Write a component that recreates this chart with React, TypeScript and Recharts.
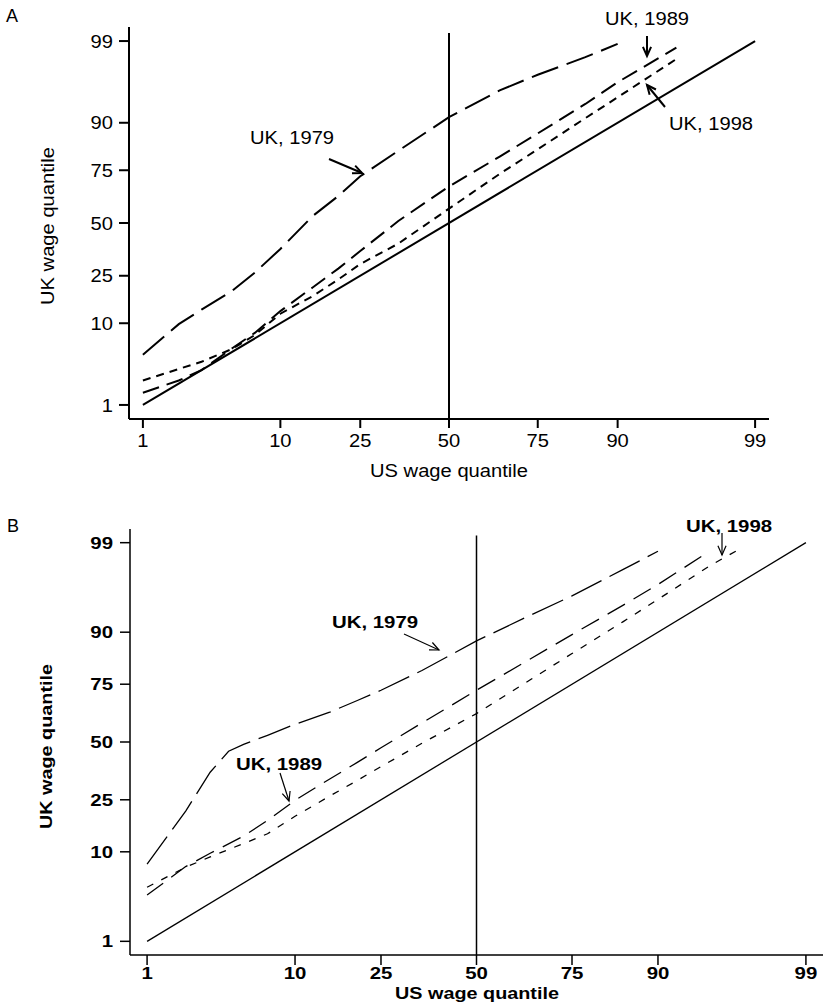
import React from "react";
import { LineChart, Line, XAxis, YAxis, ReferenceLine } from "recharts";

// quantiles: US wage quantile -> UK wage quantile (percent)
const TICKS = [1, 10, 25, 50, 75, 90, 99];

const A_US_1979 = [1, 2, 3, 5, 7, 10, 15, 20, 25, 35, 50, 65, 75, 85, 90];
const A_UK_1979 = [4.6, 9.8, 13.4, 19.4, 26.3, 37, 53.5, 63.5, 72.5, 82.2, 91.2, 95.5, 97.1, 98.3, 98.9];
const A_US_1989 = [1, 2, 3, 5, 7, 10, 15, 20, 25, 35, 50, 65, 75, 85, 90, 95.8];
const A_UK_1989 = [1.5, 2.2, 3, 5.5, 8, 13, 20.5, 28, 36, 51, 68, 80.2, 87.4, 93.6, 96.4, 98.75];
const A_US_1998 = [1, 2, 3, 5, 7, 10, 15, 20, 25, 35, 50, 65, 75, 85, 90, 95.8];
const A_UK_1998 = [2.2, 3.1, 3.8, 5.4, 7.6, 12.3, 17.5, 23.5, 30, 39.6, 57.3, 73.5, 82.7, 91, 94.6, 98.2];

const B_US_1979 = [1, 2, 3, 4, 5, 7, 10, 15, 20, 25, 35, 50, 65, 75, 85, 90];
const B_UK_1979 = [7.7, 21, 36.2, 45.7, 48.9, 53.1, 58.2, 63.6, 68.6, 72.7, 79.8, 88.1, 93.1, 95.6, 97.8, 98.7];
const B_US_1989 = [1, 2, 3, 5, 7, 10, 15, 20, 25, 35, 50, 65, 75, 85, 90, 95];
const B_UK_1989 = [3.7, 7.3, 9.7, 13.6, 18, 24.8, 33.3, 40.6, 47.3, 58.8, 72.7, 83.5, 89.5, 94.5, 96.7, 98.7];
const B_US_1998 = [1, 2, 3, 5, 7, 10, 15, 20, 25, 35, 50, 65, 75, 85, 90, 95, 97];
const B_UK_1998 = [4.5, 7.2, 9, 11.8, 14.2, 19.3, 26.4, 32.7, 38.7, 49.4, 63, 76.8, 84.9, 92, 95.2, 98, 98.85];

const EQUAL = [1, 99];

const FONT = '"Liberation Sans", Arial, Helvetica, sans-serif';

// inverse normal cdf (Acklam), percent in -> z out
function probit(pct: number) {
  const p = pct / 100;
  const a = [-39.69683028665376, 220.9460984245205, -275.9285104469687, 138.357751867269, -30.66479806614716, 2.506628277459239];
  const b = [-54.47609879822406, 161.5858368580409, -155.6989798598866, 66.80131188771972, -13.28068155288572];
  const c = [-0.007784894002430293, -0.3223964580411365, -2.400758277161838, -2.549732539343734, 4.374664141464968, 2.938163982698783];
  const d = [0.007784695709041462, 0.3224671290700398, 2.445134137142996, 3.754408661907416];
  const lo = 0.02425;
  if (p < lo) {
    const q = Math.sqrt(-2 * Math.log(p));
    return (((((c[0] * q + c[1]) * q + c[2]) * q + c[3]) * q + c[4]) * q + c[5]) / ((((d[0] * q + d[1]) * q + d[2]) * q + d[3]) * q + 1);
  }
  if (p > 1 - lo) {
    const q = Math.sqrt(-2 * Math.log(1 - p));
    return -(((((c[0] * q + c[1]) * q + c[2]) * q + c[3]) * q + c[4]) * q + c[5]) / ((((d[0] * q + d[1]) * q + d[2]) * q + d[3]) * q + 1);
  }
  const q = p - 0.5;
  const r = q * q;
  return ((((((a[0] * r + a[1]) * r + a[2]) * r + a[3]) * r + a[4]) * r + a[5]) * q) / (((((b[0] * r + b[1]) * r + b[2]) * r + b[3]) * r + b[4]) * r + 1);
}

const toPoints = (us: number[], uk: number[]) => us.map((u, i) => ({ x: probit(u), y: probit(uk[i]) }));
const tickZ = TICKS.map(probit);
const tickLabel = (v: number) => {
  const i = tickZ.findIndex((z) => Math.abs(z - v) < 1e-6);
  return i >= 0 ? String(TICKS[i]) : "";
};

type Style = { fs: number; sx: number; weight: string };

function Tick(props: any) {
  const { x, y, payload, axis, st } = props as { x: number; y: number; payload: any; axis: string; st: Style };
  const base = axis === "x" ? y + 0.716 * st.fs : y + 0.358 * st.fs;
  return (
    <text
      transform={`translate(${x},${base}) scale(${st.sx},1)`}
      textAnchor={axis === "x" ? "middle" : "end"}
      fontSize={st.fs}
      fontFamily={FONT}
      fontWeight={st.weight}
      fill="#000"
    >
      {tickLabel(payload.value)}
    </text>
  );
}

type Series = { data: { x: number; y: number }[]; dash?: string };

type PanelProps = {
  top: number;
  height: number;
  margin: { top: number; right: number; bottom: number; left: number };
  yAxisWidth: number;
  xDom: number;
  yDom: number;
  refTop: number;
  lineW: number;
  axisW: number;
  st: Style;
  xTick: [number, number];
  yTick: [number, number];
  series: Series[];
};

function Panel(p: PanelProps) {
  const axisLine = { stroke: "#000", strokeWidth: p.axisW };
  return (
    <div style={{ position: "absolute", left: 0, top: p.top }}>
      <LineChart width={826} height={p.height} margin={p.margin}>
        <XAxis
          type="number"
          dataKey="x"
          domain={[-p.xDom, p.xDom]}
          allowDataOverflow
          ticks={tickZ}
          interval={0}
          axisLine={axisLine}
          tickLine={axisLine}
          tickSize={p.xTick[0]}
          tickMargin={p.xTick[1]}
          height={40}
          tick={(t: any) => <Tick {...t} axis="x" st={p.st} />}
        />
        <YAxis
          type="number"
          dataKey="y"
          domain={[-p.yDom, p.yDom]}
          allowDataOverflow
          ticks={tickZ}
          interval={0}
          width={p.yAxisWidth}
          axisLine={axisLine}
          tickLine={axisLine}
          tickSize={p.yTick[0]}
          tickMargin={p.yTick[1]}
          tick={(t: any) => <Tick {...t} axis="y" st={p.st} />}
        />
        <ReferenceLine
          segment={[
            { x: 0, y: -p.yDom },
            { x: 0, y: p.refTop },
          ]}
          stroke="#000"
          strokeWidth={p.axisW}
        />
        {p.series.map((s, i) => (
          <Line
            key={i}
            data={s.data}
            dataKey="y"
            type="linear"
            stroke="#000"
            strokeWidth={p.lineW}
            strokeDasharray={s.dash}
            dot={false}
            activeDot={false}
            isAnimationActive={false}
          />
        ))}
      </LineChart>
    </div>
  );
}

function Txt({ x, y, children, st, anchor = "start", rot = false }: any) {
  const tr = `translate(${x},${y})${rot ? " rotate(-90)" : ""} scale(${st.sx},1)`;
  return (
    <text transform={tr} textAnchor={anchor} fontSize={st.fs} fontFamily={FONT} fontWeight={st.weight} fill="#000">
      {children}
    </text>
  );
}

function Arrow({ x1, y1, x2, y2, w }: { x1: number; y1: number; x2: number; y2: number; w: number }) {
  const ang = Math.atan2(y2 - y1, x2 - x1);
  const len = 10;
  const spread = 0.42;
  const h1 = [x2 - len * Math.cos(ang - spread), y2 - len * Math.sin(ang - spread)];
  const h2 = [x2 - len * Math.cos(ang + spread), y2 - len * Math.sin(ang + spread)];
  return (
    <g stroke="#000" strokeWidth={w} fill="none">
      <line x1={x1} y1={y1} x2={x2} y2={y2} />
      <polyline points={`${h1[0]},${h1[1]} ${x2},${y2} ${h2[0]},${h2[1]}`} />
    </g>
  );
}

const stA: Style = { fs: 18.5, sx: 1.09, weight: "normal" };
const stB: Style = { fs: 17, sx: 1.2, weight: "bold" };
const stBTitle: Style = { fs: 16.5, sx: 1.2, weight: "bold" };

export default function App() {
  return (
    <div style={{ position: "absolute", left: 0, top: 0, width: 826, height: 1003, background: "#fff" }}>
      <Panel
        top={0}
        height={490}
        margin={{ top: 27, right: 57, bottom: 31, left: 0 }}
        yAxisWidth={129}
        xDom={2.432}
        yDom={2.506}
        refTop={2.43}
        lineW={2}
        axisW={2}
        st={stA}
        xTick={[9, 6]}
        yTick={[10, 6]}
        series={[
          { data: toPoints(EQUAL, EQUAL) },
          { data: toPoints(A_US_1979, A_UK_1979), dash: "28 9" },
          { data: toPoints(A_US_1989, A_UK_1989), dash: "17 8" },
          { data: toPoints(A_US_1998, A_UK_1998), dash: "8 6" },
        ]}
      />
      <Panel
        top={490}
        height={513}
        margin={{ top: 39, right: 3, bottom: 8, left: 0 }}
        yAxisWidth={130}
        xDom={2.447}
        yDom={2.486}
        refTop={2.41}
        lineW={1.3}
        axisW={1.5}
        st={stB}
        xTick={[10, 2]}
        yTick={[10, 7]}
        series={[
          { data: toPoints(EQUAL, EQUAL) },
          { data: toPoints(B_US_1979, B_UK_1979), dash: "34 9" },
          { data: toPoints(B_US_1989, B_UK_1989), dash: "20 10" },
          { data: toPoints(B_US_1998, B_UK_1998), dash: "7 9" },
        ]}
      />
      <svg width={826} height={1003} style={{ position: "absolute", left: 0, top: 0, pointerEvents: "none" }}>
        {/* panel A */}
        <Txt x={6} y={22} st={{ fs: 18, sx: 1, weight: "normal" }}>A</Txt>
        <Txt x={54} y={226} st={stA} anchor="middle" rot>UK wage quantile</Txt>
        <Txt x={449} y={477} st={stA} anchor="middle">US wage quantile</Txt>
        <Txt x={250} y={143.5} st={stA}>UK, 1979</Txt>
        <Arrow x1={329} y1={159} x2={362} y2={173} w={2} />
        <Txt x={605} y={25} st={stA}>UK, 1989</Txt>
        <Arrow x1={647} y1={36} x2={647} y2={56} w={2} />
        <Txt x={669} y={130} st={stA}>UK, 1998</Txt>
        <Arrow x1={665} y1={107} x2={647} y2={85} w={2} />
        {/* panel B */}
        <Txt x={7} y={532} st={{ fs: 18, sx: 1, weight: "normal" }}>B</Txt>
        <Txt x={52} y={746.5} st={stBTitle} anchor="middle" rot>UK wage quantile</Txt>
        <Txt x={477} y={998.5} st={stBTitle} anchor="middle">US wage quantile</Txt>
        <Txt x={332} y={628} st={stB}>UK, 1979</Txt>
        <Arrow x1={404} y1={634} x2={439} y2={650} w={1.2} />
        <Txt x={236} y={770} st={stB}>UK, 1989</Txt>
        <Arrow x1={280} y1={773} x2={289} y2={801} w={1.2} />
        <Txt x={686} y={532} st={stB}>UK, 1998</Txt>
        <Arrow x1={722} y1={533} x2={722} y2={555} w={1.2} />
      </svg>
    </div>
  );
}
